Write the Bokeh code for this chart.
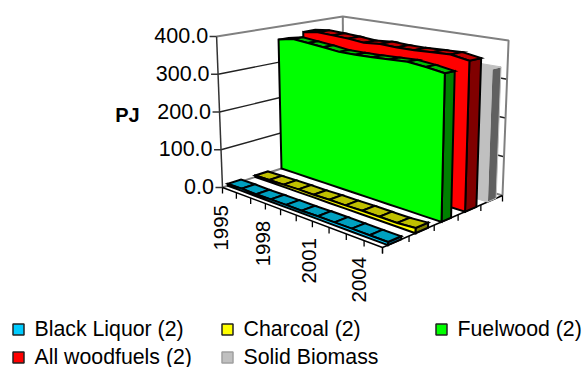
import numpy as np
from bokeh.plotting import figure
from bokeh.models import Range1d
from bokeh.embed import file_html
from bokeh.resources import INLINE
from bokeh.core.properties import value

# ---- data ----
nodes = list(range(11))
tick_years = ["1995", "1998", "2001", "2004"]
tick_year_slots = [0, 3, 6, 9]
value_ticks = [0, 100, 200, 300, 400]
value_labels = ["0.0", "100.0", "200.0", "300.0", "400.0"]
black_liquor = [5, 6, 5, 6, 6, 6, 7, 7, 7, 7, 7]
charcoal = [4, 5, 6, 7, 7, 8, 8, 9, 9, 9, 12]
fuelwood = [364, 373, 369, 365, 360, 360, 361, 363, 365, 360, 353]
woodfuels = [374, 380, 378, 376, 372, 376, 374, 374, 376, 378, 370]
solid_biomass = [336, 336, 336, 336, 336, 336, 336, 336, 336, 336, 336]

# ---- perspective set-up (floor corners, wall tops, in page pixels) ----
A, B, C, D = (222, 187), (382, 247), (502, 195), (343, 148)
hA, hC, hD = 151.0, 155.0, 132.0
VP = (362.0, 3762.0)


def homography(src, dst):
    M, r = [], []
    for (x, y), (X, Y) in zip(src, dst):
        M.append([x, y, 1, 0, 0, 0, -x * X, -y * X]); r.append(X)
        M.append([0, 0, 0, x, y, 1, -x * Y, -y * Y]); r.append(Y)
    return np.append(np.linalg.solve(np.array(M, float), np.array(r, float)), 1).reshape(3, 3)


H = homography([(0, 0), (1, 0), (1, 1), (0, 1)], [A, B, C, D])


def proj(u, v, val=0.0):
    u, v, val = np.broadcast_arrays(np.asarray(u, float), np.asarray(v, float), np.asarray(val, float))
    w = H[2, 0] * u + H[2, 1] * v + 1
    x = (H[0, 0] * u + H[0, 1] * v + H[0, 2]) / w
    y = (H[1, 0] * u + H[1, 1] * v + H[1, 2]) / w
    inv = 1 / hA + u * (1 / hC - 1 / hD) + v * (1 / hD - 1 / hA)
    px = val / 400.0 / inv
    return x + (x - VP[0]) * px / (VP[1] - y), y - px


p = figure(width=587, height=367, output_backend="svg", toolbar_location=None,
           x_range=Range1d(0, 587), y_range=Range1d(367, 0), min_border=0,
           outline_line_color=None, background_fill_color="white")
p.axis.visible = False
p.grid.visible = False

GREY = "#808080"


def line(pts, color, width=1.5):
    p.line([q[0] for q in pts], [q[1] for q in pts], line_color=color, line_width=width)


def P(u, v, val=0):
    x, y = proj(u, v, val)
    return float(x), float(y)


# walls
for t in value_ticks[1:-1]:
    line([P(0, 0, t), P(0, 1, t), P(1, 1, t)], "#222222", 1.3)
line([P(0, 0, 400), P(0, 1, 400), P(1, 1, 400), P(1, 1, 0)], GREY, 2)
line([P(0, 1, 400), P(0, 1, 0)], GREY, 2)
line([P(0, 0, 0), P(0, 1, 0), P(1, 1, 0)], GREY, 2)

# axes
line([P(0, 0, 0), P(0, 0, 400)], "#333333", 1.5)
line([P(0, 0, 0), P(1, 0, 0), P(1, 1, 0)], "black", 1.5)
for t, lab in zip(value_ticks, value_labels):
    x, y = P(0, 0, t)
    line([(x - 7, y), (x, y)], "#333333", 1.5)
    p.text([x - 8.5], [y - 1], text=[lab], text_font=value("Liberation Sans"), text_font_size="21.5px",
           text_align="right", text_baseline="middle", text_color="black")
for i in nodes:
    x, y = P(i / 10, 0)
    line([(x, y), (x, y + 6)], "black", 1.3)
for j in range(6):
    x, y = P(1, j / 5)
    line([(x, y), (x, y + 6)], "black", 1.3)
for lab, s in zip(tick_years, tick_year_slots):
    x, y = P((s + 0.5) * 0.967 / 10, 0)
    p.text([x - 8.5], [y + 15], text=[lab], angle=np.pi / 2, text_font=value("Liberation Sans"),
           text_font_size="20.5px", text_align="right", text_baseline="middle", text_color="black")


def ribbon(vals, vc, hw, front, top, side, outline, lw=2.0):
    v0, v1 = vc - hw, vc + hw
    us = np.array(nodes) / 10.0
    vals = np.array(vals, float)
    xs, ys, cols = [], [], []
    # end cap
    xs0, ys0 = zip(P(1, v0, 0), P(1, v1, 0), P(1, v1, vals[-1]), P(1, v0, vals[-1]))
    xs.append(list(xs0)); ys.append(list(ys0)); cols.append(side)
    # top facets
    for i in range(len(us) - 1):
        q = [P(us[i], v0, vals[i]), P(us[i + 1], v0, vals[i + 1]),
             P(us[i + 1], v1, vals[i + 1]), P(us[i], v1, vals[i])]
        xs.append([a for a, _ in q]); ys.append([b for _, b in q]); cols.append(top)
    # front face
    fx, fy = proj(us, v0, vals)
    bx, by = proj(us, v0, 0 * vals)
    xs.append(list(fx) + list(bx[::-1])); ys.append(list(fy) + list(by[::-1])); cols.append(front)
    p.patches(xs, ys, fill_color=cols, line_color=outline, line_width=lw, line_join="miter")


ribbon(solid_biomass, 0.9, 0.04, "#c0c0c0", "#c0c0c0", "#606060", "#c0c0c0", 1)
ribbon(woodfuels, 0.71, 0.05, "#ff0000", "#c00000", "#800000", "black")
ribbon(fuelwood, 0.5, 0.04, "#00ff00", "#00c000", "#008000", "black")
ribbon(charcoal, 0.3, 0.05, "#ffff00", "#c0c000", "#808000", "black")
ribbon(black_liquor, 0.09, 0.05, "#00ccff", "#00a0c0", "#006080", "black")

# y title
p.text([127], [114], text=["PJ"], text_font=value("Liberation Sans"), text_font_size="20px",
       text_font_style="bold", text_align="center", text_baseline="middle", text_color="black")

# legend
legend_names = ["Black Liquor (2)", "Charcoal (2)", "Fuelwood (2)", "All woodfuels (2)", "Solid Biomass"]
legend_colors = ["#00ccff", "#ffff00", "#00ff00", "#ff0000", "#c0c0c0"]
legend_edges = ["#222222", "#222222", "#222222", "#222222", "#a0a0a0"]
legend_x = [18, 227, 441, 18, 227]
legend_y = [329, 329, 329, 357, 357]
p.scatter(legend_x, legend_y, marker="square", size=11, fill_color=legend_colors,
          line_color=legend_edges, line_width=1.5)
p.text([x + 16 for x in legend_x], [y - 1 for y in legend_y], text=legend_names,
       text_font=value("Liberation Sans"), text_font_size="21.3px", text_align="left",
       text_baseline="middle", text_color="black")

open("out.html", "w").write(file_html(p, INLINE))
